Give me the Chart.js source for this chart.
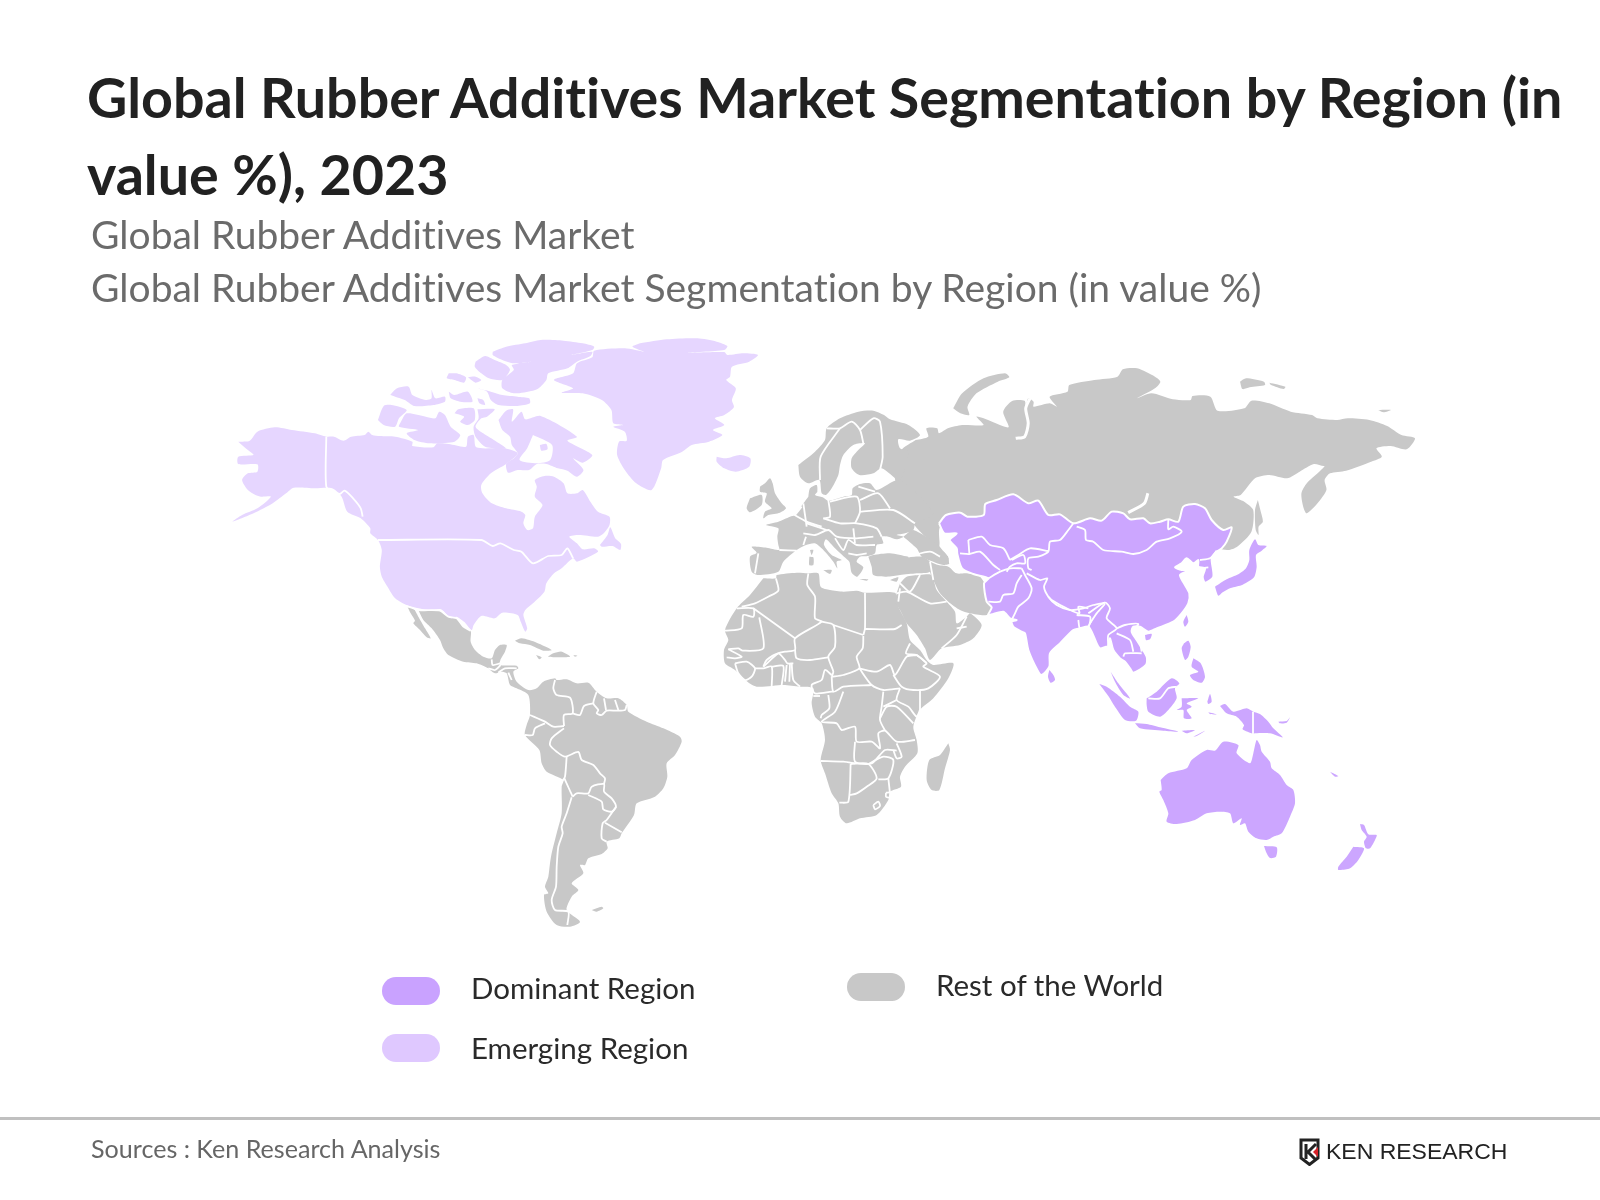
<!DOCTYPE html>
<html>
<head>
<meta charset="utf-8">
<title>Global Rubber Additives Market Segmentation by Region</title>
<script src="https://cdn.jsdelivr.net/npm/chart.js@4/dist/chart.umd.min.js"></script>
<style>
  html, body { margin: 0; background: #fff; }
  #page { position: relative; width: 1600px; height: 1200px; overflow: hidden; font-family: Lato, sans-serif; font-variant-ligatures: none; }
  #map { position: absolute; left: 0; top: 0; }
  .txt { position: absolute; white-space: nowrap; }
  #title { left: 87px; top: 59px; font-size: 55.6px; font-weight: 700; line-height: 76.5px; color: #212121; }
  .sub { left: 91px; font-size: 39px; line-height: 52px; color: #6b6b6b; }
  .lg-text { font-size: 29.5px; line-height: 40px; color: #2a2a2a; }
  .swatch { position: absolute; width: 58px; height: 28px; border-radius: 14px; }
  #rule { position: absolute; left: 0; top: 1117px; width: 1600px; height: 3px; background: #c0c0c0; }
  #source { left: 91px; top: 1131px; font-size: 25.1px; line-height: 34px; color: #666; }
  #logo { position: absolute; left: 1299px; top: 1138px; }
  #logoText { left: 1326px; top: 1139px; font-family: "Liberation Sans", sans-serif; font-size: 22px; line-height: 26px; color: #222; transform: scaleX(1.045); transform-origin: left; }
</style>
</head>
<body>
<div id="page">
  <canvas id="map" width="1600" height="1200"></canvas>
  <div class="txt" id="title">Global Rubber Additives Market Segmentation by Region (in<br>value %), 2023</div>
  <div class="txt sub" style="top:208px">Global Rubber Additives Market</div>
  <div class="txt sub" style="top:261px">Global Rubber Additives Market Segmentation by Region (in value %)</div>
  <div id="legend"></div>
  <div id="rule"></div>
  <div class="txt" id="source">Sources : Ken Research Analysis</div>
  <svg id="logo" width="26" height="28" viewBox="0 0 26 28">
    <path d="M2 2H19V20L10.5 26.5L2 20Z" fill="none" stroke="#222" stroke-width="3"/>
    <path d="M7 6V21M17 6L9 14L17 22" fill="none" stroke="#222" stroke-width="3"/>
    <path d="M19 9L14 14L19 19Z" fill="#d8232a"/>
  </svg>
  <div class="txt" id="logoText">KEN RESEARCH</div>
</div>
<script>
// legend
const legendLabels = ["Dominant Region", "Emerging Region", "Rest of the World"];
const legendColors = ["#c9a2ff", "#dfc8ff", "#c8c8c8"];

const crops = {
  na: [200, 320, 2.613],
  sa: [380, 600, 3],
  eu: [700, 380, 3],
  af: [700, 560, 3],
  ru: [880, 340, 2.8],
  as: [960, 480, 3],
  oc: [1060, 640, 3],
};

// North America, Greenland, Iceland
const alaskaCanadaUsa = [100,365,130,362,150,335,195,322,240,330,300,340,330,350,350,350,375,362,395,350,430,345,440,335,450,345,470,348,510,350,555,365,555,378,610,382,620,370,650,372,695,380,700,350,715,345,722,382,795,385,830,400,800,432,760,460,735,495,738,520,760,548,800,565,840,575,850,585,845,610,855,630,870,625,875,590,895,555,875,530,880,500,875,480,900,468,925,470,950,490,960,520,985,520,1000,510,1020,545,1040,575,1070,590,1070,615,1055,640,1040,650,990,645,965,650,985,670,1000,688,1030,685,1040,695,985,725,975,715,945,745,925,760,905,790,900,815,870,850,850,870,845,885,855,925,850,935,838,905,830,885,790,878,770,895,735,888,715,915,710,930,690,905,670,890,655,895,630,868,595,870,540,855,510,835,490,800,475,770,470,740,475,690,465,660,445,640,445,625,420,595,385,575,370,530,345,505,300,505,245,503,225,520,190,550,140,580,85,605,110,585,150,565,185,530,160,530,145,525,125,510,110,480,125,460,150,455,150,433,100,432,100,410,140,405,125,390];
const baffin = [780,300,800,272,818,268,815,305,840,275,850,298,890,288,985,350,960,362,1025,405,1000,428,975,415,1002,450,985,470,960,452,935,445,905,432,880,432,860,450,830,450,805,458,800,432,820,415,830,400,815,375,810,350,790,330];
const ellesmere = [765,95,800,80,850,70,890,60,950,62,1000,70,1030,80,1025,90,970,105,1025,95,1020,108,985,125,960,145,910,160,905,180,885,205,870,212,820,220,790,205,790,180,820,150,815,135,865,125,820,130,790,120,765,105];
const axelHeiberg = [720,125,745,108,770,120,800,135,810,150,790,180,755,175,735,160,718,140];
const devon = [725,205,760,215,790,225,830,230,860,235,862,250,830,258,780,255,760,240,750,215];
const cornwallis = [650,160,670,160,695,172,690,188,665,180,645,175];
const amund = [700,172,720,170,735,180,720,188];
const melvilleIsland = [497,225,515,205,545,200,555,225,590,240,605,235,605,210,615,235,640,230,640,245,610,255,560,258,535,240,510,230];
const bathurst = [650,215,665,225,700,215,712,245,680,245,655,235];
const maxwell = [725,235,740,240,745,255,730,250];
const banks = [465,300,480,258,500,255,540,270,520,295,510,320,480,315];
const victoria = [525,305,540,280,590,290,615,295,625,275,640,285,655,320,680,345,665,365,600,370,560,360,540,340,570,330,520,320];
const princeOfWales = [665,280,675,268,715,265,718,300,700,315,680,305,690,290];
const somerset = [725,268,770,268,750,290,735,295,720,320,740,340,775,365,800,385,780,385,745,380,720,350,715,320,728,295];
const newfoundland = [1045,675,1065,645,1072,622,1085,655,1100,672,1098,690,1078,678,1050,680];
const greenland = [1150,70,1220,58,1300,55,1350,65,1378,78,1370,90,1275,98,1370,96,1378,105,1420,100,1458,105,1435,125,1390,140,1385,170,1375,180,1400,205,1390,240,1395,262,1370,285,1345,295,1370,315,1340,330,1365,345,1330,365,1285,375,1260,395,1210,420,1205,445,1180,510,1140,490,1110,450,1090,405,1095,365,1115,362,1110,335,1080,320,1105,315,1080,310,1075,270,1050,240,1000,220,945,218,975,205,925,180,975,160,985,130,1025,112,1030,92,1110,85,1160,95,1130,80];
const iceland = [1350,410,1375,415,1410,405,1438,415,1435,440,1400,455,1370,445,1350,425];
const foxeIslet = [888,375,905,372,908,388,892,392];

// Mexico, Central and South America
const baja = [83,22,100,25,115,50,135,85,152,115,140,112,120,90,100,70,105,62,92,40];
const latinAmerica = [115,30,180,32,205,50,230,55,250,80,272,92,272,125,285,150,310,170,335,175,345,150,360,135,380,135,375,155,362,178,360,195,410,197,415,205,400,215,410,245,445,270,470,265,490,245,525,235,530,240,560,238,590,250,625,248,650,275,680,295,715,295,740,315,745,335,800,365,850,385,900,410,905,425,885,465,860,490,862,530,850,565,825,590,770,610,762,645,725,700,718,715,680,725,683,745,665,762,625,775,615,795,600,795,610,820,575,850,595,870,575,890,560,930,600,965,570,980,530,975,500,935,492,885,505,880,495,860,505,830,510,790,515,760,530,700,545,640,545,560,550,540,500,515,485,490,478,450,435,405,440,375,450,345,445,285,410,265,390,255,380,220,365,215,345,220,330,210,325,205,290,190,250,185,205,165,190,145,180,120,155,85,130,60];
const cuba = [405,122,425,115,470,128,515,150,490,152,450,135,420,130];
const hispaniola = [520,160,545,155,570,170,505,170];
const jamaica = [468,165,485,172,478,178];
const puertoRico = [580,165,592,167,585,170];
const falklands = [635,930,665,920,670,925,650,935];

// Europe, Turkey, Iran
const fennoscandia = [295,255,345,215,375,180,380,145,420,115,475,95,520,92,552,105,570,118,625,135,660,165,630,182,595,178,600,205,625,215,600,300,545,265,520,280,478,285,455,265,455,235,475,210,495,190,460,195,430,225,420,255,415,285,395,325,378,345,365,340,358,300,325,310,300,290];
const continentalEurope = [325,350,330,325,350,315,352,335,345,345,368,352,385,362,430,350,455,345,458,325,480,312,510,310,530,330,600,300,700,400,650,430,645,432,640,450,615,460,590,465,610,470,590,478,565,470,545,470,550,490,530,495,525,520,505,528,480,530,470,545,490,562,472,590,455,578,448,545,432,530,405,505,378,478,372,495,395,525,425,540,410,545,412,565,400,545,370,510,345,490,318,495,290,510,250,545,235,575,175,585,155,575,150,530,170,518,155,500,200,503,238,510,235,495,232,470,235,445,198,435,235,425,270,410,285,405,310,370];
const britain = [180,320,195,310,210,295,218,310,225,340,245,370,258,385,240,398,205,405,190,415,195,395,215,385,195,365,200,340,180,335];
const ireland = [150,355,185,345,185,375,150,397,140,385];
const sicily = [370,570,395,570,390,582];
const sardinia = [328,530,340,532,340,555,328,555];
const corsica = [330,510,340,510,335,525];
const turkey = [505,530,520,525,570,520,625,530,665,530,690,545,690,575,650,580,600,585,560,590,520,585,515,560];
const cyprus = [570,600,595,592,590,605];
const crete = [478,597,505,598,500,602];
const caucasus = [610,470,650,505,665,530,700,545,730,555,750,550,745,530,720,500,640,450];
const iran = [690,545,715,555,745,560,770,580,800,580,840,590,860,625,858,660,875,680,860,705,810,700,780,690,745,665,720,640,700,600,690,575];

// Africa and Arabia
const arabia = [600,70,620,50,660,45,695,45,710,90,740,125,765,155,770,190,800,170,810,160,845,195,820,235,780,255,725,265,690,300,675,265,650,225,620,190,600,150,585,125,590,100];
const africa = [190,55,228,55,230,45,290,38,325,40,355,40,362,80,390,90,430,95,470,92,495,98,585,98,590,130,620,190,630,240,660,270,680,300,700,315,760,310,745,355,700,415,660,450,640,500,650,540,652,580,615,620,600,650,603,680,570,695,565,720,530,765,480,775,440,790,420,770,415,730,395,700,375,640,362,600,375,540,365,490,345,470,335,430,340,385,300,380,250,375,170,380,135,360,105,330,75,310,72,270,85,240,75,210,110,145,150,105];
const madagascar = [745,550,750,570,735,625,718,690,695,690,680,660,688,600,720,585];

// Russia and its islands
const russia = [100,300,135,290,130,265,160,265,165,280,190,265,230,255,290,255,270,230,290,235,360,262,345,215,370,183,405,182,408,200,415,175,430,185,430,200,475,190,495,200,475,170,525,155,530,135,600,120,665,110,680,88,720,85,770,110,785,125,770,145,720,175,760,160,820,178,870,180,875,168,925,170,945,212,1020,205,1040,182,1090,190,1150,215,1210,225,1225,235,1280,240,1310,235,1370,240,1420,258,1460,285,1498,295,1475,328,1430,318,1390,325,1405,350,1375,365,1305,392,1260,400,1245,420,1250,450,1225,490,1195,520,1185,500,1180,460,1195,430,1240,385,1262,355,1245,378,1215,372,1175,395,1140,415,1090,405,1050,415,1010,465,990,470,1020,485,1045,510,1040,575,1000,620,975,630,950,625,900,560,700,570,540,570,400,520,170,560,165,620,100,560,60,480,40,400,60,330];
const sakhalin = [1058,480,1065,510,1072,545,1060,560,1060,585,1052,570,1050,510];
const novayaZemlya = [205,205,230,160,290,115,350,100,362,112,330,125,270,160,245,200,250,225,225,220];
const newSiberian = [1008,125,1025,115,1075,125,1078,135,1035,142,1015,147];
const lyakhovsky = [1090,128,1135,140,1130,147,1095,135];
const wrangel = [1395,210,1430,210,1410,217];

// water cut out of the land
const foxeBasin = [870,345,920,375,915,420,880,430,835,420,855,385];
const caspian = [722,478,720,500,745,530,748,552,765,577,790,575,780,525,750,500,770,468,745,458];
const gulfOfOb = [420,175,408,205,415,250,405,290,380,295];
const baikal = [750,460,740,490,695,518];

// Central, South and East Asia as one mass
const asiaMainland = [-63,130,-42,105,1,98,22,110,71,105,76,72,110,60,160,43,205,70,235,62,265,105,300,103,340,130,390,115,425,122,455,95,490,100,510,118,550,115,570,130,600,125,625,118,655,125,670,80,705,72,735,85,755,120,790,150,815,142,800,185,785,205,770,215,755,235,760,290,735,308,728,290,735,265,715,260,715,240,700,250,680,235,665,250,645,262,665,270,690,270,660,285,672,310,688,340,685,370,665,400,640,425,590,445,565,455,540,440,520,440,515,455,530,480,560,530,558,555,520,578,510,565,495,545,480,535,460,510,450,475,445,500,450,540,462,580,445,500,420,505,410,490,395,455,385,440,360,445,340,450,300,490,270,520,268,560,245,585,232,570,205,510,195,460,185,455,160,440,155,425,170,420,150,415,130,395,85,405,95,382,80,365,72,310,85,295,40,282,6,265,-8,222,-10,205,-31,180,-10,160,-47,160];
const sriLanka = [268,570,280,585,285,600,272,608,264,590];
const hainan = [555,465,575,462,570,478,558,480];
const taiwan = [680,405,685,425,675,440,670,425];
const japan = [765,320,800,298,835,283,858,265,868,240,868,210,885,178,895,195,920,198,905,212,888,225,890,260,882,292,848,314,812,324,788,337,775,347];
const luzon = [672,490,685,482,692,500,685,530,675,540,665,505];
const mindanao = [700,535,722,550,735,590,725,608,700,600,690,585,715,575,695,560];
const sumatra = [418,612,440,620,480,650,510,680,535,695,528,722,495,720,468,685,445,648];
const malaya = [452,575,475,610,510,655,490,645,465,605];
const borneo = [560,655,590,635,635,595,658,610,645,625,650,655,625,690,600,710,565,695,560,675];
const sulawesi = [665,655,715,655,680,670,695,680,680,690,695,715,672,715,670,690,650,690,665,680];
const java = [525,730,560,732,600,742,655,755,610,752,540,745];
const flores = [665,752,705,750,680,760];
const timor = [700,770,735,752,710,768];
const halmahera = [742,665,750,642,755,665,745,672];
const seram = [745,697,770,703,750,702];

// Oceania
const newGuinea = [480,198,495,192,520,215,560,205,580,215,600,222,625,245,640,265,668,292,630,280,585,280,580,282,548,268,552,255,530,230,500,220];
const newBritain = [655,245,680,243,690,232,680,248,660,250];
const solomon = [810,395,835,408,825,410];
const australia = [302,420,325,400,380,385,395,360,440,330,465,332,490,305,535,315,530,340,570,370,580,340,590,300,600,315,605,335,630,365,635,385,660,405,680,435,700,450,705,490,690,530,665,580,640,590,620,600,590,595,565,575,555,550,540,555,545,535,520,550,510,520,480,515,440,520,405,540,350,552,320,545,325,520,310,480,298,455,305,450];
const tasmania = [612,618,650,622,648,650,630,654,620,640];
const nzNorth = [900,552,912,555,925,583,950,585,945,600,930,625,918,625,912,605,920,590,905,570];
const nzSouth = [880,620,912,625,895,660,870,685,835,690,835,680,860,650];

// region groups, by crop
const emergingShapes = { na: [alaskaCanadaUsa, baffin, ellesmere, axelHeiberg, devon, cornwallis, amund, melvilleIsland, bathurst, maxwell, banks, victoria, princeOfWales, somerset, newfoundland, greenland, iceland] };
const dominantShapes = { as: [asiaMainland, sriLanka, hainan, taiwan, japan, luzon, mindanao, sumatra, malaya, borneo, sulawesi, java, flores, timor, halmahera, seram], oc: [newGuinea, newBritain, solomon, australia, tasmania, nzNorth, nzSouth] };
const restShapes = {
  sa: [baja, latinAmerica, cuba, hispaniola, jamaica, puertoRico, falklands],
  eu: [fennoscandia, continentalEurope, britain, ireland, sicily, sardinia, corsica, turkey, cyprus, crete, caucasus, iran],
  af: [arabia, africa, madagascar],
  ru: [russia, sakhalin, novayaZemlya, newSiberian, lyakhovsky, wrangel],
};
const waterShapes = { na: [foxeBasin], eu: [caspian] };

// white country borders
const bordersNa = [
  [330,350,330,500,350,515,365,522,378,512,400,535,420,565,425,590],
  [465,660,735,660,765,678,785,670,820,690,840,695,870,730,910,708,945,705,960,685,975,715],
];
const bordersSa = [
  [80,18,115,30,180,32,205,50,230,55,250,80,272,92],
  [335,178,338,195,360,190],[325,205,345,210,362,195],[355,218,375,205,410,205],[385,218,395,240],
  [525,240,520,265,530,285,570,293,578,340,552,345,552,378],
  [578,340,600,345,612,318,640,310],
  [650,275,640,310,655,330,650,340,665,345,680,332,710,332,735,330,740,315],
  [672,295,678,330],[705,300,715,330],
  [450,345,495,365,520,380,552,378],
  [495,370,465,385,458,405,435,405],
  [552,385,515,415,510,435,530,455,555,470,595,456,605,480,640,495,660,520,675,535,672,552],
  [560,470,555,530,548,542],[553,535,578,590],
  [578,590,590,580,625,580,635,560,672,552,672,575,695,595,708,620,695,635,670,628,665,605,625,585],
  [708,620,680,660,668,670,665,715,680,725],[675,668,725,697],
  [575,592,560,640,545,680,548,700,535,740,530,800,528,860,515,900,525,930,565,935,562,975],
];
const bordersEu = [
  [380,145,420,145,455,125,480,150,490,190],[360,300,362,230,420,145],
  [480,150,520,115,540,125,548,230,540,270],
  [475,320,525,335],[480,360,535,340,570,385],[480,395,580,390,645,430],[390,365,470,350,480,395,465,430],
  [310,370,320,440],[275,400,320,425,365,440],[285,405,305,380],[320,430,380,450],
  [370,415,420,430,470,430,530,445,545,470],[385,360,390,410,370,415],
  [310,460,345,465,385,450,410,470,470,475,520,470],[318,470,310,495],[405,475,430,510,445,480,470,495,525,495],
  [460,445,465,490],[500,520,470,525,445,520],[238,510,290,512],[175,520,165,580],
  [625,530,690,515,720,530],[690,545,700,600],
];
const bordersAf = [
  [228,55,235,92,205,110,165,130,125,140],
  [110,145,160,145,160,170,130,165,125,205,75,212],[160,145,285,235],
  [178,172,190,265,128,272,115,265,85,268],
  [325,40,322,75,345,110,345,175,365,185,285,235,285,270,255,275,235,280,190,320],
  [365,185,400,195,405,260,385,290,400,335,395,350],[400,195,490,225],
  [495,98,495,205,490,225],[495,207,585,207,605,195],
  [490,228,488,265,470,290,478,325,430,345,395,350],
  [478,325,530,335,570,315,585,345,620,290,650,285],[630,250,618,280,650,285,680,310],
  [650,285,680,310,670,320,720,350,685,385,640,390,605,380,580,345],
  [660,390,660,450],[600,385,590,420,625,440,650,470,660,450],
  [478,325,515,375,550,390,600,385],[395,350,400,395,430,380,515,375],
  [285,270,290,295,330,300,385,292],[275,310,280,360,300,380],
  [395,345,375,330,365,360,335,375,345,400,395,395,400,395],
  [340,408,360,408],[385,405,388,445,365,465,362,475],[430,395,405,455,365,485,410,490,425,510,465,500,470,545,515,545,540,565,535,520,555,512,590,545,645,540],
  [550,395,545,440,540,480,555,512],[550,440,590,420],[540,475,560,440,590,440,640,490],
  [465,545,465,605,515,610,555,570,590,572],[590,550,605,590,590,595,580,570],
  [362,603,430,605,465,610],[452,612,445,725,418,728],
  [452,612,505,612,530,655,500,680,470,700,450,705],
  [505,612,550,590,580,600,565,655,535,658],[565,655,570,700],
  [520,735,535,725,540,738,525,748,520,735],[558,698,572,698,568,712,558,710,558,698],
  [85,268,125,290,105,295,80,292],[105,310,140,305,165,325,155,350,135,360,115,340,105,310],
  [165,325,190,325,215,320,215,380],[215,320,250,318,245,375],[260,315,255,365],[270,312,268,365],
  [190,320,200,300,235,280,255,300,262,310,280,310],
  [600,70,630,95,660,45],[590,100,620,95,690,130,740,125],[600,85,595,125],
  [800,170,770,225,725,265],[800,200,770,205],
];
const bordersAs = [
  [25,180,65,170,90,195,130,205,150,240],[25,180,28,222],[0,220,28,222,60,215,100,255,120,270],
  [150,240,175,225,210,205,265,213],
  [340,130,325,150,300,180,270,185,265,215,235,230,205,235,205,265,215,270],
  [155,240,190,225,195,250,170,250,150,260,140,275],
  [85,295,120,275,150,265,185,265],[185,285,170,310,160,340,130,345,120,365,85,365],
  [185,265,195,285,215,325,205,355,175,380,165,400,155,420],
  [200,280,240,300,262,295,252,320,265,350,290,375,330,390,370,385,400,375,435,368],
  [265,350,275,360,320,385,358,400,355,380,385,385],
  [350,140,375,150,378,180,400,185,430,210,485,215,520,222,560,210,590,185,630,175,665,155,640,140,625,148,625,120],
  [720,240,750,235,770,212],[720,265,745,262],
  [385,400,435,368,450,385,440,415,470,445,445,465,445,500],
  [350,405,390,410,385,440,360,445,355,420],[395,420,385,445,400,470],[390,430,410,400,435,372],
  [470,445,495,435,535,432,520,455,540,490,545,515],[490,530,495,520,545,520],[470,460,510,480,520,515],
  [565,655,600,655,625,625,650,620],
];
const bordersOc = [[579,215,579,282]];

// turn a traced flat list into chart points through its crop
function toPoints(flat, crop, closed) {
  const [ox, oy, sx] = crops[crop];
  const points = [];
  for (let i = 0; i < flat.length; i += 2) {
    points.push({ x: ox + flat[i] / sx, y: oy + flat[i + 1] / 3 });
  }
  if (closed) points.push(points[0]);
  return points;
}

function shapeDatasets(groups, color, order) {
  const out = [];
  for (const crop of Object.keys(groups)) {
    for (const flat of groups[crop]) {
      out.push({
        data: toPoints(flat, crop, true),
        backgroundColor: color,
        borderColor: "#fff",
        // only the big Asian mass shows a white edge against Russia
        borderWidth: flat === asiaMainland ? 2 : 0,
        fill: "shape",
        order,
      });
    }
  }
  return out;
}

function lineDatasets(lines, crop, width) {
  return lines.map((flat) => ({
    data: toPoints(flat, crop, false),
    borderColor: "#fff",
    borderWidth: width,
    fill: false,
    order: 1,
  }));
}

const datasets = [
  ...shapeDatasets(restShapes, legendColors[2], 6),
  ...shapeDatasets(emergingShapes, "#e6d6ff", 5),
  ...shapeDatasets(waterShapes, "#fff", 4),
  ...shapeDatasets({ na: [foxeIslet] }, "#e6d6ff", 3),
  ...shapeDatasets(dominantShapes, "#cca6ff", 3),
  ...lineDatasets([gulfOfOb, baikal], "ru", 3),
  ...lineDatasets(bordersNa, "na", 1.8),
  ...lineDatasets(bordersSa, "sa", 1.8),
  ...lineDatasets(bordersEu, "eu", 1.8),
  ...lineDatasets(bordersAf, "af", 1.8),
  ...lineDatasets(bordersAs, "as", 1.8),
  ...lineDatasets(bordersOc, "oc", 1.8),
];

new Chart(document.getElementById("map"), {
  type: "line",
  data: { datasets },
  options: {
    responsive: false,
    animation: false,
    events: [],
    layout: { padding: 0 },
    elements: { point: { radius: 0 }, line: { tension: 0.25, borderJoinStyle: "round" } },
    scales: {
      x: { type: "linear", min: 0, max: 1600, display: false },
      y: { type: "linear", min: 0, max: 1200, reverse: true, display: false },
    },
    plugins: { legend: { display: false }, tooltip: { enabled: false } },
  },
});

// legend sits in two loose columns
const legendSlots = [
  { swatch: [382, 977], text: [471, 968] },
  { swatch: [382, 1034], text: [471, 1028] },
  { swatch: [847, 973], text: [936, 965] },
];
const legendBox = document.getElementById("legend");
legendLabels.forEach((label, i) => {
  const { swatch, text } = legendSlots[i];
  legendBox.insertAdjacentHTML("beforeend",
    `<div class="swatch" style="left:${swatch[0]}px;top:${swatch[1]}px;background:${legendColors[i]}"></div>` +
    `<div class="txt lg-text" style="left:${text[0]}px;top:${text[1]}px">${label}</div>`);
});
</script>
</body>
</html>
